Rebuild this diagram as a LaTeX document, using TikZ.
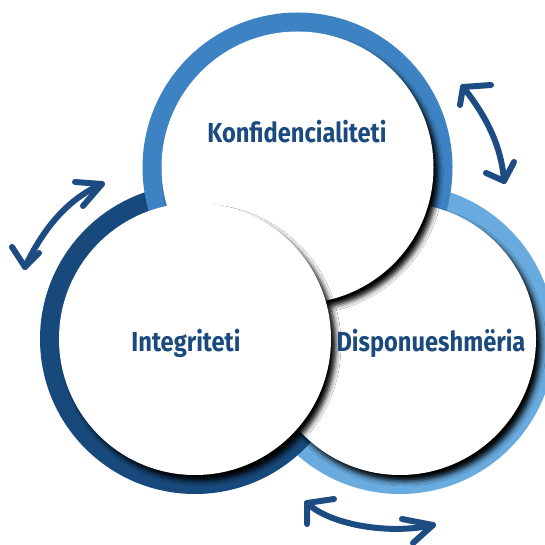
\documentclass[tikz,border=0pt]{standalone}
\usepackage{fontspec}
\setmainfont{Fira Sans}
\newfontfamily\labelfont[FakeStretch=0.86]{Fira Sans}
\usetikzlibrary{shadows.blur}
\definecolor{ringmid}{HTML}{3D83C4}
\definecolor{ringdark}{HTML}{17497C}
\definecolor{ringlight}{HTML}{69ABDF}
\definecolor{txtblue}{HTML}{1B4A7E}
\definecolor{arrowblue}{HTML}{1D4C82}
\begin{document}
\begin{tikzpicture}[x=1pt,y=-1pt,
  disk/.style={circle, fill=white, minimum size=272pt, inner sep=0pt,
    blur shadow={shadow xshift=5pt, shadow yshift=-6pt, shadow blur radius=5pt, shadow opacity=100}},
  ringdisk/.style={circle, minimum size=310pt, inner sep=0pt},
  lbl/.style={font=\labelfont\bfseries\fontsize{27.5}{30}\selectfont, text=txtblue, inner sep=0pt},
  arr/.style={draw=arrowblue, line width=6pt, line cap=round, line join=round},
]
\useasboundingbox (0,0) rectangle (545,545);
\clip (0,0) rectangle (545,545);
% coloured rings (drawn as full disks)
\node[ringdisk, fill=ringlight] (rlight) at (400,339) {};
\node[ringdisk, fill=ringdark] (rdark) at (195,339) {};
\node[ringdisk, fill=ringmid] (rmid) at (297.5,167.5) {};
% white disks with shadows
\node[disk] (dright) at (400,339) {};
\node[disk] (dtop) at (297.5,167.5) {};
\node[disk] (dleft) at (195,339) {};
% labels
\node[lbl] (tkonf) at (297,132) {Konfidencialiteti};
\node[lbl] (tint) at (186,343) {Integriteti};
\node[lbl] (tdisp) at (431,343) {Disponueshmëria};
% arrows: top right
\coordinate (a1) at (463,87);
\coordinate (a2) at (504,181);
\draw[arr] (a1) .. controls (478,106) and (501,138) .. (a2);
\draw[arr] (491,85) -- (a1) -- (460,105);
\draw[arr] (486,173) -- (a2) -- (514,162);
% arrows: left
\coordinate (l1) at (102,184);
\coordinate (l2) at (25,267);
\draw[arr] (l1) .. controls (70,198) and (45,225) .. (l2);
\draw[arr] (75,182) -- (l1) -- (83,206);
\draw[arr] (12,247) -- (l2) -- (39,253);
% arrows: bottom
\coordinate (b1) at (307,503);
\coordinate (b2) at (433,525);
\draw[arr] (b1) .. controls (330,525) and (390,535) .. (b2);
\draw[arr] (334,499) -- (b1) -- (307,524);
\draw[arr] (402,519) -- (b2) -- (413,543);
\end{tikzpicture}
\end{document}
